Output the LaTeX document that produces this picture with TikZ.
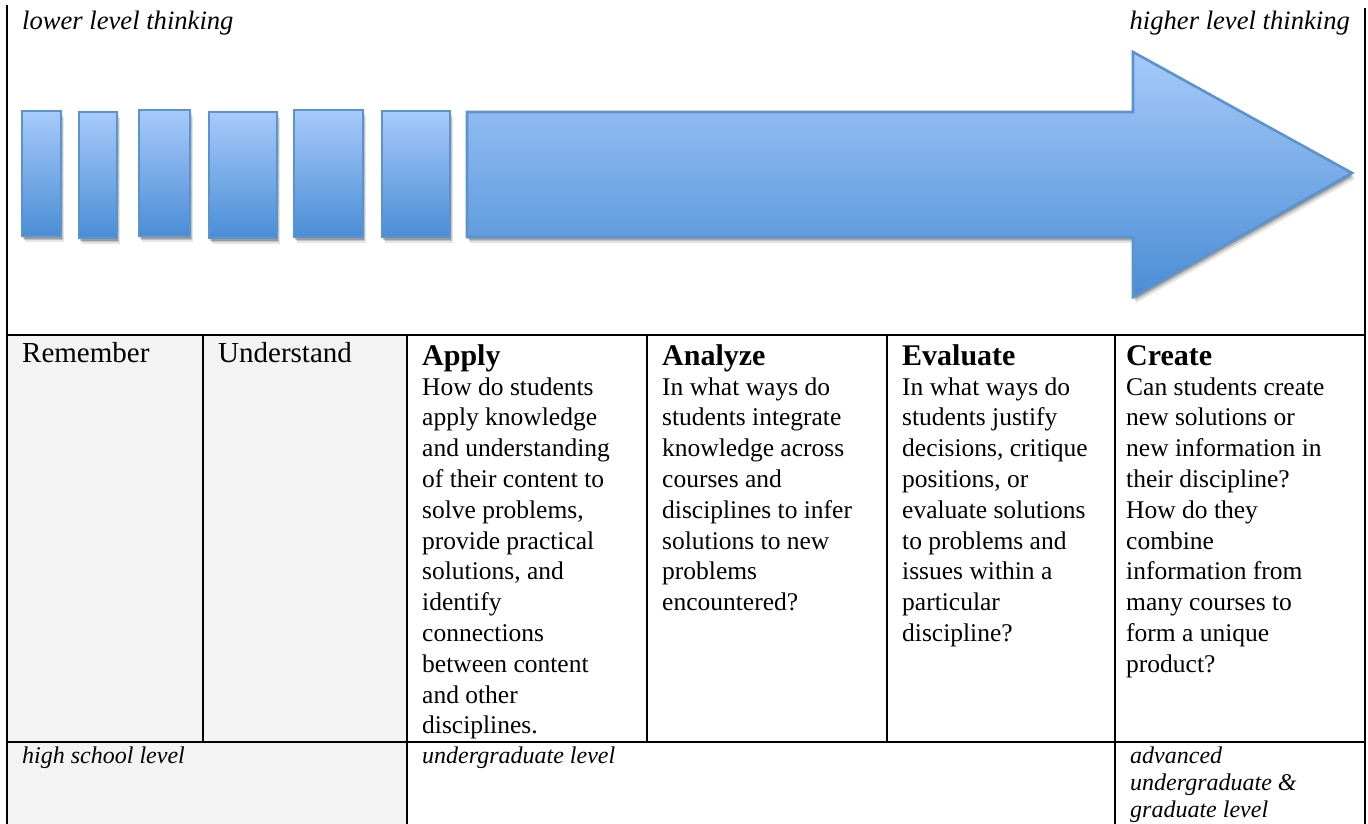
\documentclass[tikz,border=0pt]{standalone}
\usepackage{fontspec}
\setmainfont{Liberation Serif}
\usetikzlibrary{shadows}
\definecolor{lightblue}{RGB}{167,202,250}
\definecolor{darkblue}{RGB}{74,141,213}
\definecolor{edgeblue}{RGB}{90,147,205}
\definecolor{cellgray}{RGB}{243,243,243}
\tikzset{
  blueshape/.style={draw=edgeblue, line width=2.6pt, line join=miter,
    top color=lightblue, bottom color=darkblue,
    drop shadow={shadow xshift=3pt, shadow yshift=-6pt, opacity=0.10, fill=black},
    drop shadow={shadow xshift=2pt, shadow yshift=-4pt, opacity=0.15, fill=black},
    drop shadow={shadow xshift=1pt, shadow yshift=-2.5pt, opacity=0.2, fill=black}},
  tableline/.style={line width=2.2pt, black},
  toptext/.style={inner sep=0pt, font=\fontsize{26.6}{30}\selectfont\itshape},
  bodytext/.style={inner sep=0pt, anchor=base west, font=\fontsize{25.5}{30.8}\selectfont},
  bigbody/.style={inner sep=0pt, anchor=base west, font=\fontsize{29}{33}\selectfont},
  titletext/.style={inner sep=0pt, anchor=base west, font=\fontsize{30}{34}\selectfont\bfseries},
  leveltext/.style={inner sep=0pt, anchor=base west, font=\fontsize{24}{27}\selectfont\itshape}
}
\newcommand{\celltext}[1]{\begin{tabular}[t]{@{}l@{}}#1\end{tabular}}
\begin{document}
\begin{tikzpicture}[x=1pt,y=-1pt]
\useasboundingbox (0,0) rectangle (1368,824);
\fill[white] (0,0) rectangle (1368,824);
% gray cells
\fill[cellgray] (7,335) rectangle (407,824);

% top texts
\node[toptext, anchor=base west] (low) at (22,30) {lower level thinking};
\node[toptext, anchor=base east] (high) at (1350,30) {higher level thinking};

% blue bars
\path[blueshape] (22,111) rectangle (61,236);
\path[blueshape] (79,112) rectangle (117,238);
\path[blueshape] (139,110) rectangle (190,236);
\path[blueshape] (209,112) rectangle (277,238);
\path[blueshape] (294,110) rectangle (363,237);
\path[blueshape] (382,111) rectangle (450,237);
% big arrow
\path[blueshape] (467,112) -- (1133,112) -- (1133,52) -- (1352,173) -- (1133,297) -- (1133,237) -- (467,237) -- cycle;

% table lines
\draw[tableline] (7,5) -- (7,824);
\draw[tableline] (1365,8) -- (1365,824);
\draw[tableline] (7,335) -- (1365,335);
\draw[tableline] (7,742) -- (1365,742);
\draw[tableline] (203,335) -- (203,742);
\draw[tableline] (407,335) -- (407,824);
\draw[tableline] (647,335) -- (647,742);
\draw[tableline] (887,335) -- (887,742);
\draw[tableline] (1115,335) -- (1115,824);

% first columns
\node[bigbody] (remember) at (22,362) {Remember};
\node[bigbody] (understand) at (218,362) {Understand};

% Apply
\node[titletext] (apply) at (422,365) {Apply};
\node[bodytext] (applytxt) at (422,395) {\celltext{How do students\\ apply knowledge\\ and understanding\\ of their content to\\ solve problems,\\ provide practical\\ solutions, and\\ identify\\ connections\\ between content\\ and other\\ disciplines.}};

% Analyze
\node[titletext] (analyze) at (662,365) {Analyze};
\node[bodytext] (analyzetxt) at (662,395) {\celltext{In what ways do\\ students integrate\\ knowledge across\\ courses and\\ disciplines to infer\\ solutions to new\\ problems\\ encountered?}};

% Evaluate
\node[titletext] (evaluate) at (902,365) {Evaluate};
\node[bodytext] (evaluatetxt) at (902,395) {\celltext{In what ways do\\ students justify\\ decisions, critique\\ positions, or\\ evaluate solutions\\ to problems and\\ issues within a\\ particular\\ discipline?}};

% Create
\node[titletext] (create) at (1126,365) {Create};
\node[bodytext] (createtxt) at (1126,395) {\celltext{Can students create\\ new solutions or\\ new information in\\ their discipline?\\ How do they\\ combine\\ information from\\ many courses to\\ form a unique\\ product?}};

% level row
\node[leveltext] (hs) at (22,763) {high school level};
\node[leveltext] (ug) at (422,763) {undergraduate level};
\node[leveltext] (adv) at (1130,763) {\celltext{advanced\\ undergraduate \&\\ graduate level}};
\end{tikzpicture}
\end{document}
